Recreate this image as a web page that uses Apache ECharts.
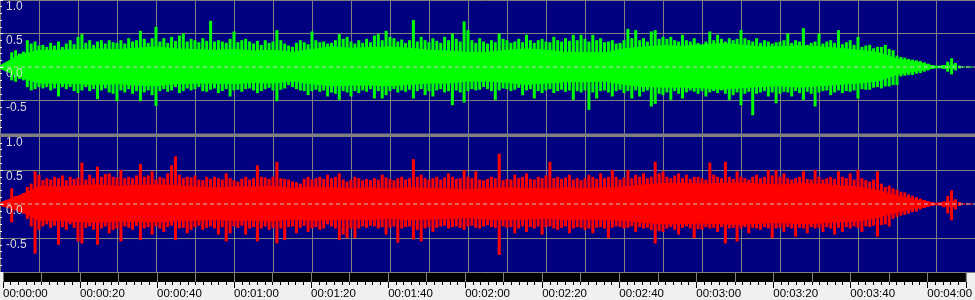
<!DOCTYPE html>
<html><head><meta charset="utf-8">
<script src="https://cdn.jsdelivr.net/npm/echarts@6/dist/echarts.min.js"></script>
<style>html,body{margin:0;padding:0;background:#f0f0f0;overflow:hidden}#c{width:975px;height:300px}</style>
</head><body><div id="c"></div>
<script>
// Peak values per second (t = 0..249 s), left channel (green)
const gMax = [
0.03,0.03,0.03,0.22,0.25,0.2,0.23,0.4,0.35,0.38,
0.32,0.33,0.3,0.36,0.32,0.38,0.3,0.35,0.4,0.34,
0.45,0.49,0.36,0.4,0.33,0.38,0.4,0.35,0.4,0.37,
0.36,0.4,0.35,0.43,0.38,0.4,0.54,0.42,0.36,0.43,
0.6,0.38,0.43,0.36,0.45,0.39,0.47,0.5,0.38,0.42,
0.4,0.37,0.43,0.39,0.69,0.38,0.4,0.38,0.36,0.42,
0.53,0.37,0.4,0.42,0.38,0.35,0.39,0.33,0.4,0.36,
0.38,0.55,0.4,0.35,0.32,0.3,0.36,0.4,0.37,0.34,
0.53,0.4,0.37,0.38,0.35,0.36,0.4,0.49,0.42,0.45,
0.38,0.35,0.4,0.36,0.42,0.37,0.47,0.49,0.4,0.54,
0.45,0.43,0.38,0.41,0.36,0.4,0.7,0.38,0.45,0.4,
0.37,0.43,0.39,0.36,0.45,0.4,0.5,0.42,0.38,0.68,
0.55,0.4,0.36,0.43,0.38,0.35,0.4,0.37,0.5,0.42,
0.4,0.36,0.38,0.42,0.37,0.48,0.4,0.36,0.4,0.42,
0.38,0.37,0.45,0.4,0.38,0.43,0.39,0.48,0.4,0.48,
0.42,0.38,0.48,0.4,0.43,0.37,0.38,0.4,0.35,0.36,
0.4,0.57,0.43,0.55,0.4,0.43,0.38,0.53,0.55,0.42,
0.45,0.42,0.45,0.4,0.38,0.48,0.4,0.38,0.43,0.36,
0.33,0.38,0.53,0.4,0.48,0.42,0.38,0.43,0.4,0.42,
0.55,0.43,0.4,0.38,0.43,0.36,0.4,0.38,0.35,0.37,
0.38,0.4,0.5,0.36,0.4,0.38,0.58,0.33,0.36,0.38,
0.5,0.35,0.38,0.4,0.36,0.55,0.34,0.37,0.4,0.33,
0.45,0.3,0.32,0.33,0.28,0.3,0.3,0.33,0.27,0.25,
0.17,0.15,0.14,0.12,0.11,0.1,0.09,0.07,0.05,0.03,
0.02,0.01,0.03,0.08,0.13,0.06,0.02,0.01,0.01,0.01];
const gMin = [
-0.03,-0.03,-0.03,-0.2,-0.22,-0.18,-0.2,-0.3,-0.35,-0.33,
-0.3,-0.32,-0.3,-0.35,-0.32,-0.44,-0.3,-0.33,-0.3,-0.36,
-0.39,-0.35,-0.3,-0.36,-0.33,-0.48,-0.35,-0.32,-0.38,-0.4,
-0.51,-0.35,-0.38,-0.33,-0.4,-0.36,-0.51,-0.38,-0.35,-0.42,
-0.58,-0.36,-0.33,-0.37,-0.35,-0.3,-0.39,-0.36,-0.32,-0.35,
-0.33,-0.3,-0.36,-0.37,-0.34,-0.32,-0.39,-0.36,-0.33,-0.44,
-0.35,-0.34,-0.37,-0.33,-0.32,-0.35,-0.39,-0.36,-0.33,-0.31,
-0.35,-0.51,-0.34,-0.32,-0.27,-0.3,-0.33,-0.35,-0.36,-0.42,
-0.36,-0.34,-0.37,-0.35,-0.44,-0.38,-0.4,-0.49,-0.36,-0.38,
-0.44,-0.36,-0.39,-0.35,-0.37,-0.33,-0.47,-0.36,-0.47,-0.42,
-0.36,-0.33,-0.38,-0.35,-0.37,-0.34,-0.47,-0.36,-0.33,-0.42,
-0.36,-0.44,-0.35,-0.33,-0.38,-0.36,-0.57,-0.35,-0.38,-0.53,
-0.36,-0.33,-0.35,-0.34,-0.3,-0.33,-0.36,-0.49,-0.35,-0.32,
-0.33,-0.36,-0.34,-0.31,-0.42,-0.35,-0.33,-0.47,-0.36,-0.39,
-0.35,-0.33,-0.39,-0.36,-0.34,-0.37,-0.35,-0.49,-0.36,-0.38,
-0.35,-0.64,-0.38,-0.47,-0.36,-0.35,-0.38,-0.44,-0.36,-0.34,
-0.39,-0.36,-0.47,-0.35,-0.44,-0.37,-0.35,-0.59,-0.55,-0.4,
-0.42,-0.38,-0.49,-0.36,-0.4,-0.47,-0.38,-0.35,-0.37,-0.4,
-0.36,-0.44,-0.38,-0.36,-0.39,-0.35,-0.4,-0.49,-0.42,-0.38,
-0.57,-0.4,-0.37,-0.72,-0.4,-0.38,-0.36,-0.44,-0.38,-0.54,
-0.4,-0.37,-0.38,-0.44,-0.36,-0.39,-0.49,-0.37,-0.4,-0.59,
-0.38,-0.36,-0.35,-0.42,-0.38,-0.35,-0.39,-0.36,-0.37,-0.35,
-0.47,-0.33,-0.34,-0.34,-0.31,-0.3,-0.32,-0.29,-0.29,-0.27,
-0.27,-0.14,-0.13,-0.12,-0.12,-0.1,-0.09,-0.07,-0.05,-0.02,
-0.02,-0.01,-0.03,-0.07,-0.11,-0.05,-0.02,-0.01,-0.01,-0.01];
// Right channel (red)
const rMax = [
0.03,0.03,0.03,0.23,0.12,0.13,0.16,0.25,0.3,0.48,
0.43,0.35,0.38,0.36,0.4,0.38,0.42,0.35,0.4,0.37,
0.39,0.61,0.36,0.43,0.38,0.55,0.4,0.44,0.45,0.4,
0.39,0.5,0.38,0.4,0.38,0.42,0.59,0.4,0.42,0.48,
0.36,0.4,0.38,0.45,0.57,0.7,0.43,0.38,0.4,0.39,
0.42,0.36,0.35,0.4,0.37,0.4,0.38,0.36,0.45,0.38,
0.35,0.33,0.37,0.4,0.36,0.38,0.57,0.4,0.39,0.37,
0.4,0.62,0.38,0.37,0.36,0.33,0.32,0.3,0.37,0.4,
0.36,0.38,0.4,0.37,0.43,0.38,0.4,0.45,0.36,0.33,
0.36,0.4,0.38,0.35,0.37,0.35,0.38,0.36,0.43,0.39,
0.37,0.35,0.38,0.4,0.36,0.38,0.66,0.4,0.43,0.38,
0.36,0.38,0.4,0.36,0.39,0.45,0.4,0.37,0.38,0.5,
0.4,0.38,0.48,0.36,0.35,0.37,0.4,0.38,0.74,0.35,
0.37,0.36,0.43,0.38,0.4,0.45,0.37,0.36,0.4,0.38,
0.42,0.62,0.38,0.4,0.37,0.39,0.43,0.36,0.38,0.35,
0.38,0.43,0.4,0.37,0.45,0.38,0.4,0.5,0.4,0.36,
0.39,0.5,0.38,0.43,0.4,0.45,0.38,0.4,0.62,0.45,
0.48,0.4,0.38,0.42,0.45,0.38,0.43,0.37,0.4,0.4,
0.38,0.36,0.61,0.43,0.4,0.38,0.62,0.4,0.37,0.48,
0.4,0.38,0.36,0.4,0.43,0.38,0.4,0.5,0.42,0.5,
0.4,0.45,0.38,0.36,0.38,0.4,0.48,0.37,0.36,0.5,
0.4,0.36,0.38,0.4,0.37,0.48,0.4,0.38,0.45,0.36,
0.5,0.38,0.35,0.33,0.36,0.48,0.3,0.25,0.27,0.23,
0.21,0.18,0.17,0.14,0.12,0.1,0.08,0.06,0.04,0.02,
0.01,0.01,0.04,0.12,0.2,0.07,0.03,0.01,0.01,0.01];
const rMin = [
-0.03,-0.03,-0.03,-0.27,-0.1,-0.12,-0.14,-0.22,-0.33,-0.73,
-0.38,-0.33,-0.3,-0.35,-0.32,-0.6,-0.34,-0.38,-0.3,-0.35,
-0.55,-0.58,-0.35,-0.33,-0.38,-0.6,-0.36,-0.33,-0.43,-0.38,
-0.36,-0.55,-0.33,-0.35,-0.38,-0.32,-0.53,-0.36,-0.34,-0.45,
-0.33,-0.36,-0.41,-0.34,-0.32,-0.53,-0.36,-0.35,-0.43,-0.38,
-0.34,-0.32,-0.38,-0.35,-0.33,-0.36,-0.45,-0.34,-0.55,-0.43,
-0.33,-0.35,-0.32,-0.45,-0.36,-0.34,-0.55,-0.36,-0.33,-0.38,
-0.35,-0.58,-0.36,-0.53,-0.34,-0.33,-0.43,-0.35,-0.32,-0.41,
-0.36,-0.34,-0.38,-0.36,-0.3,-0.33,-0.36,-0.53,-0.45,-0.5,
-0.36,-0.5,-0.36,-0.33,-0.35,-0.32,-0.33,-0.36,-0.34,-0.45,
-0.35,-0.33,-0.57,-0.36,-0.34,-0.33,-0.52,-0.38,-0.55,-0.36,
-0.34,-0.41,-0.35,-0.33,-0.32,-0.36,-0.34,-0.33,-0.35,-0.38,
-0.33,-0.32,-0.35,-0.36,-0.33,-0.31,-0.34,-0.35,-0.75,-0.33,
-0.35,-0.34,-0.43,-0.36,-0.33,-0.41,-0.34,-0.36,-0.33,-0.45,
-0.34,-0.33,-0.36,-0.38,-0.35,-0.33,-0.43,-0.36,-0.34,-0.35,
-0.38,-0.36,-0.43,-0.35,-0.34,-0.36,-0.5,-0.35,-0.33,-0.34,
-0.36,-0.35,-0.33,-0.41,-0.34,-0.36,-0.35,-0.38,-0.58,-0.4,
-0.41,-0.36,-0.34,-0.38,-0.45,-0.35,-0.33,-0.36,-0.5,-0.37,
-0.38,-0.34,-0.36,-0.35,-0.41,-0.34,-0.58,-0.36,-0.35,-0.55,
-0.36,-0.34,-0.43,-0.35,-0.36,-0.38,-0.34,-0.36,-0.5,-0.36,
-0.35,-0.41,-0.34,-0.36,-0.48,-0.35,-0.36,-0.43,-0.34,-0.36,
-0.35,-0.41,-0.34,-0.36,-0.45,-0.35,-0.41,-0.34,-0.36,-0.33,
-0.35,-0.41,-0.33,-0.34,-0.32,-0.48,-0.31,-0.3,-0.33,-0.22,
-0.19,-0.17,-0.16,-0.14,-0.12,-0.11,-0.08,-0.06,-0.04,-0.02,
-0.01,-0.01,-0.05,-0.14,-0.24,-0.08,-0.03,-0.01,-0.01,-0.01];
// Dense body of the waveform, one value every 5 s (t = 0, 5, ..., 245)
const gCoreTop = [0.02,0.18,0.25,0.25,0.26,0.27,0.26,0.28,0.3,0.27,0.26,0.25,0.26,0.24,0.25,0.22,0.26,0.3,0.28,0.29,0.3,0.28,0.25,0.24,0.22,0.22,0.25,0.27,0.25,0.22,0.22,0.21,0.27,0.3,0.32,0.31,0.33,0.35,0.33,0.3,0.3,0.32,0.3,0.28,0.25,0.22,0.12,0.07,0.01,0.03];
const gCoreBot = [-0.02,-0.15,-0.24,-0.24,-0.25,-0.26,-0.25,-0.27,-0.28,-0.25,-0.24,-0.24,-0.25,-0.23,-0.24,-0.21,-0.25,-0.28,-0.27,-0.27,-0.28,-0.26,-0.24,-0.24,-0.21,-0.21,-0.23,-0.26,-0.24,-0.22,-0.22,-0.21,-0.26,-0.29,-0.3,-0.3,-0.31,-0.33,-0.31,-0.29,-0.28,-0.3,-0.28,-0.26,-0.24,-0.21,-0.11,-0.06,-0.01,-0.02];
const rCoreTop = [0.02,0.12,0.26,0.25,0.27,0.28,0.26,0.27,0.28,0.27,0.25,0.24,0.25,0.25,0.26,0.23,0.25,0.24,0.23,0.24,0.22,0.24,0.23,0.22,0.21,0.23,0.24,0.23,0.22,0.24,0.23,0.24,0.25,0.28,0.3,0.3,0.29,0.3,0.31,0.29,0.28,0.3,0.29,0.27,0.25,0.2,0.12,0.06,0.01,0.04];
const rCoreBot = [-0.02,-0.1,-0.24,-0.24,-0.26,-0.27,-0.25,-0.26,-0.26,-0.25,-0.24,-0.23,-0.24,-0.24,-0.25,-0.22,-0.24,-0.23,-0.22,-0.23,-0.21,-0.23,-0.22,-0.21,-0.2,-0.22,-0.23,-0.22,-0.21,-0.23,-0.22,-0.23,-0.24,-0.27,-0.29,-0.29,-0.28,-0.29,-0.3,-0.28,-0.27,-0.29,-0.28,-0.26,-0.25,-0.2,-0.12,-0.06,-0.01,-0.04];
const coreStep = 5;
// Tick labels
const yTickValues = [1, 0.5, 0, -0.5];
const yTickLabels = ['1.0', '0.5', '0.0', '-0.5'];
const timeTickValues = [0,20,40,60,80,100,120,140,160,180,200,220,240];
const timeLabels = ['00:00:00','00:00:20','00:00:40','00:01:00','00:01:20','00:01:40','00:02:00','00:02:20','00:02:40','00:03:00','00:03:20','00:03:40','00:04:00'];

const NAVY = '#000080', GRID = '#808080';
const chart = echarts.init(document.getElementById('c'), null, {renderer: 'canvas'});

function spikeSeries(axisIdx, yIdx, maxArr, minArr, color) {
  return {
    type: 'custom', xAxisIndex: axisIdx, yAxisIndex: yIdx, z: 3, silent: true, clip: true,
    encode: {x: 0, y: [1, 2]},
    data: maxArr.map((v, i) => [i, v, minArr[i]]),
    renderItem(params, api) {
      const t = api.value(0);
      const a = api.coord([t, api.value(1)]);
      const b = api.coord([t, api.value(2)]);
      return {type: 'rect', shape: {x: a[0] - 1.5, y: a[1], width: 3, height: b[1] - a[1]}, style: {fill: color}};
    }
  };
}
function coreSeries(axisIdx, yIdx, top, bot, color) {
  const data = [];
  for (let i = 0; i < top.length - 1; i++) {
    data.push([i * coreStep, top[i], bot[i], (i + 1) * coreStep, top[i + 1], bot[i + 1]]);
  }
  return {
    type: 'custom', xAxisIndex: axisIdx, yAxisIndex: yIdx, z: 2, silent: true, clip: true,
    encode: {x: [0, 3], y: [1, 2, 4, 5]},
    data,
    renderItem(params, api) {
      const p1 = api.coord([api.value(0), api.value(1)]);
      const p2 = api.coord([api.value(3), api.value(4)]);
      const p3 = api.coord([api.value(3), api.value(5)]);
      const p4 = api.coord([api.value(0), api.value(2)]);
      return {type: 'polygon', shape: {points: [p1, p2, p3, p4]}, style: {fill: color, stroke: color, lineWidth: 1}};
    }
  };
}
function zeroLine(axisIdx, yIdx) {
  return {
    type: 'line', xAxisIndex: axisIdx, yAxisIndex: yIdx, z: 5, silent: true, symbol: 'none',
    data: [[0, 0], [250, 0]],
    lineStyle: {color: '#c8c8c8', width: 1, type: [4, 3]}
  };
}
function waveX(gridIndex) {
  return {
    type: 'value', gridIndex, min: 0, max: 250, interval: 10, position: 'bottom',
    axisLine: {show: false}, axisTick: {show: false}, axisLabel: {show: false},
    splitLine: {show: true, lineStyle: {color: GRID, width: 1}}
  };
}
function waveYGrid(gridIndex) {
  return {
    type: 'value', gridIndex, min: -1, max: 1, interval: 0.5,
    axisLine: {show: false}, axisTick: {show: false}, axisLabel: {show: false},
    splitLine: {show: true, lineStyle: {color: [GRID, GRID, 'rgba(0,0,0,0)', GRID, GRID], width: 1}}
  };
}
function waveYLabels(gridIndex) {
  return {
    type: 'value', gridIndex, min: -1, max: 1, interval: 0.5, z: 10, position: 'left',
    axisLine: {show: false},
    axisTick: {show: true, inside: true, length: 3, lineStyle: {color: '#ffffff'}},
    minorTick: {show: true, splitNumber: 5, length: 2, lineStyle: {color: '#ffffff'}},
    splitLine: {show: false},
    axisLabel: {
      show: true, inside: true, margin: 6, verticalAlign: 'top', padding: [1, 0, 0, 0],
      color: '#d8d8d8', fontSize: 12, fontFamily: 'Liberation Sans',
      formatter: v => { const k = yTickValues.findIndex(x => Math.abs(x - v) < 1e-9); return k < 0 ? '' : yTickLabels[k]; }
    }
  };
}

chart.setOption({
  animation: false,
  backgroundColor: '#f0f0f0',
  grid: [
    {left: 0, right: 0, top: 0, height: 134, show: true, backgroundColor: NAVY, borderWidth: 0},
    {left: 0, right: 0, top: 136, height: 136, show: true, backgroundColor: NAVY, borderWidth: 0},
    {left: 0, right: 0, top: 273, height: 9, show: true, backgroundColor: '#000000', borderWidth: 0}
  ],
  xAxis: [
    waveX(0), waveX(1), waveX(2),
    {
      type: 'value', gridIndex: 2, min: 0, max: 250, interval: 20, position: 'bottom',
      axisLine: {show: false},
      axisTick: {show: true, length: 6, lineStyle: {color: '#000000'}},
      minorTick: {show: true, splitNumber: 10, length: 3, lineStyle: {color: '#000000'}},
      splitLine: {show: false},
      axisLabel: {
        show: true, margin: 6, align: 'left', color: '#000000', fontSize: 11.5, fontFamily: 'Liberation Sans',
        formatter: v => { const k = timeTickValues.indexOf(v); return k < 0 ? '' : timeLabels[k]; }
      }
    }
  ],
  yAxis: [
    waveYGrid(0), waveYLabels(0), waveYGrid(1), waveYLabels(1),
    {type: 'value', gridIndex: 2, min: 0, max: 1, show: false}
  ],
  graphic: [
    {type: 'rect', z: 100, shape: {x: 0, y: 133.5, width: 975, height: 3.5}, style: {fill: '#808080'}}
  ],
  series: [
    coreSeries(0, 0, gCoreTop, gCoreBot, '#00ff00'),
    spikeSeries(0, 0, gMax, gMin, '#00ff00'),
    zeroLine(0, 0),
    coreSeries(1, 2, rCoreTop, rCoreBot, '#ff0000'),
    spikeSeries(1, 2, rMax, rMin, '#ff0000'),
    zeroLine(1, 2)
  ]
});
</script></body></html>
